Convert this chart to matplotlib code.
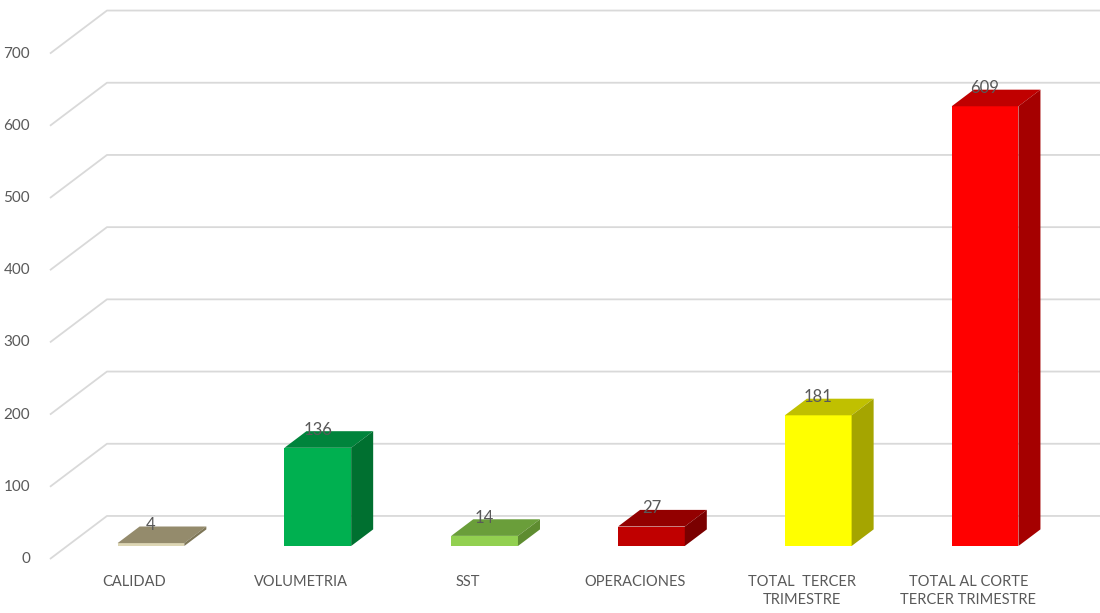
import matplotlib
matplotlib.use("Agg")
import matplotlib.pyplot as plt
from matplotlib.patches import Polygon

categories = ["CALIDAD", "VOLUMETRIA", "SST", "OPERACIONES",
              "TOTAL  TERCER\nTRIMESTRE", "TOTAL AL CORTE\nTERCER TRIMESTRE"]
values = [4, 136, 14, 27, 181, 609]
front_colors = ["#DDD6B4", "#00B050", "#92D050", "#C00000", "#FFFF00", "#FF0000"]
top_colors = ["#948B6C", "#00843C", "#6A9E3A", "#930000", "#C0C000", "#C00000"]
side_colors = ["#7E7657", "#007030", "#5E8C30", "#7A0000", "#A5A500", "#A50000"]
ticks = [0, 100, 200, 300, 400, 500, 600, 700]

plt.rcParams['font.family'] = ['Lato', 'DejaVu Sans']
TXT = "#595959"

fig = plt.figure(figsize=(11, 6.13), dpi=100)
ax = fig.add_axes([0, 0, 1, 1])
ax.set_xlim(-0.905, 5.689)
ax.set_ylim(-92.8, 756.2)
ax.axis("off")

# perspective offsets (data units)
bw = 0.40            # bar width
bdx, bdy = 0.132, 23.0  # bar depth
gfx, gbx = -0.6055, -0.2638   # wall gridline front/back x
gfy, gby = -18.0, 41.6        # wall gridline front/back y offset

for t in ticks:
    ax.plot([gfx, gbx, 5.689], [t + gfy, t + gby, t + gby],
            color="#D9D9D9", lw=1.3, solid_capstyle="butt", zorder=1)
    ax.text(-0.725, t + gfy, str(t), ha="right", va="center",
            fontsize=11, color=TXT)

for i, (v, fc, tc, sc) in enumerate(zip(values, front_colors, top_colors, side_colors)):
    x0, x1 = i - bw / 2, i + bw / 2
    ax.bar(i, v, width=bw, color=fc, edgecolor="none", zorder=3)
    ax.add_patch(Polygon([(x0, v), (x0 + bdx, v + bdy), (x1 + bdx, v + bdy), (x1, v)],
                         closed=True, facecolor=tc, edgecolor="none", zorder=3))
    ax.add_patch(Polygon([(x1, 0), (x1 + bdx, bdy), (x1 + bdx, v + bdy), (x1, v)],
                         closed=True, facecolor=sc, edgecolor="none", zorder=3))
    ax.text(i, v + bdy + 2, str(v), ha="center", va="center",
            fontsize=12, color=TXT, zorder=4)
    ax.text(i - 0.1, -40, categories[i], ha="center", va="top",
            fontsize=10.5, color=TXT, linespacing=1.35)

fig.savefig("out.png", dpi=100)
